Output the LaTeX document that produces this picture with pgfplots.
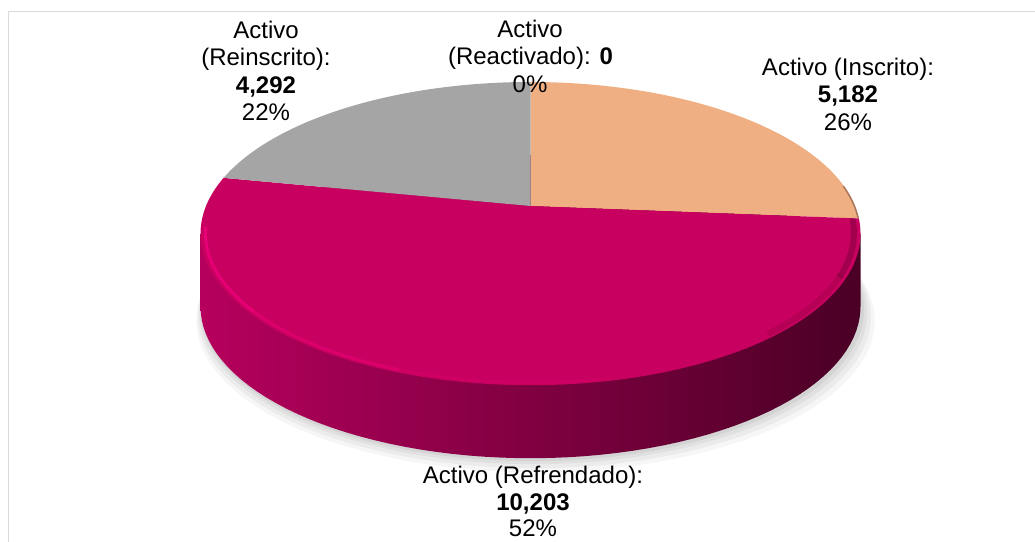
\documentclass[border=0pt]{standalone}
\usepackage{pgfplots}
\pgfplotsset{compat=1.18}
\usepackage{fontspec}
\setmainfont{Liberation Sans}
\definecolor{peach}{HTML}{F0AF82}
\definecolor{peachedge}{HTML}{A8765A}
\definecolor{mag}{HTML}{C8005F}
\definecolor{grey}{HTML}{A5A5A5}
\definecolor{sideL}{HTML}{B6005D}
\definecolor{sideM}{HTML}{800041}
\definecolor{sideR}{HTML}{4A0025}
\definecolor{frame}{HTML}{D9D9D9}
\definecolor{hiA}{HTML}{F5007F}
\definecolor{hiB}{HTML}{EE007A}
\definecolor{hiC}{HTML}{E0006F}
\definecolor{shD}{HTML}{6A0035}
% perspective projection of the pie's rim (centre 530.5,206 in pixel units)
\newcommand\PX[2]{530.5+#2*324.5*cos(#1)/(1+0.182*sin(#1))}
\newcommand\PY[2]{206-#2*146.6*sin(#1)/(1+0.182*sin(#1))}
% data
\def\vIns{5182}
\def\vRef{10203}
\def\vRei{4292}
\def\vRea{0}
\begin{document}%
\begin{tikzpicture}
\pgfmathsetmacro\tot{\vIns/1000+\vRef/1000+\vRei/1000+\vRea/1000}
\pgfmathsetmacro\aA{90}
\pgfmathsetmacro\aB{\aA-0.36*\vIns/\tot}
\pgfmathsetmacro\aC{\aB-0.36*\vRef/\tot}
\pgfmathsetmacro\aD{\aC-0.36*\vRei/\tot}
\begin{axis}[name=pie,width=1035pt,height=541pt,scale only axis,hide axis,
  xmin=0,xmax=1035,ymin=0,ymax=541,y dir=reverse,clip=false]
% frame
\draw[frame,line width=1pt] (axis cs:8.5,545) -- (axis cs:8.5,11) -- (axis cs:1040,11);
% shadow
\addplot[draw=none,fill=black,fill opacity=0.05,domain=0:360,samples=120] ({530.5+1.005*(\PX{x}{1}-530.5)+2},{\PY{x}{1}+73+3}) -- cycle;
\addplot[draw=none,fill=black,fill opacity=0.05,domain=0:360,samples=120] ({530.5+1.012*(\PX{x}{1}-530.5)+3},{\PY{x}{1}+73+6}) -- cycle;
\addplot[draw=none,fill=black,fill opacity=0.045,domain=0:360,samples=120] ({530.5+1.02*(\PX{x}{1}-530.5)+4},{\PY{x}{1}+73+10}) -- cycle;
\addplot[draw=none,fill=black,fill opacity=0.035,domain=0:360,samples=120] ({530.5+1.028*(\PX{x}{1}-530.5)+5},{\PY{x}{1}+73+14}) -- cycle;
% side wall
\addplot[draw=none,left color=sideL,middle color=sideM,right color=sideR,domain=0:360,samples=150]
  ({\PX{x}{1}},{\PY{x}{1}+73}) -- cycle (axis cs:200.5,233.6) rectangle (axis cs:860.5,306.6);
% top faces
\addplot[draw=none,fill=peach,domain=\aB:\aA,samples=60] ({\PX{x}{1}},{\PY{x}{1}}) -- (axis cs:530.5,206) -- cycle;
\addplot[draw=none,fill=mag,domain=\aC:\aB,samples=140] ({\PX{x}{1}},{\PY{x}{1}}) -- (axis cs:530.5,206) -- cycle;
\addplot[draw=none,fill=grey,domain=\aD:\aC,samples=60] ({\PX{x}{1}},{\PY{x}{1}}) -- (axis cs:530.5,206) -- cycle;
% bevel highlights and shadows on the rim
\addplot[no marks,line width=1.5pt,color=peachedge,domain=\aB:8,samples=10] ({\PX{x}{0.998}},{\PY{x}{0.998}});
\addplot[no marks,line width=3pt,color=hiA,opacity=0.7,domain=-172:-140,samples=30] ({\PX{x}{0.985}},{\PY{x}{0.985}});
\addplot[no marks,line width=3pt,color=hiB,opacity=0.5,domain=-141:-110,samples=30] ({\PX{x}{0.985}},{\PY{x}{0.985}});
\addplot[no marks,line width=3pt,color=hiC,opacity=0.3,domain=-111:-80,samples=30] ({\PX{x}{0.985}},{\PY{x}{0.985}});
\addplot[no marks,line width=6pt,color=shD,opacity=0.2,domain=-50:-26,samples=30] ({\PX{x}{0.98}},{\PY{x}{0.98}});
\addplot[no marks,line width=6pt,color=shD,opacity=0.4,domain=-27:\aB,samples=30] ({\PX{x}{0.98}},{\PY{x}{0.98}});
% labels
\tikzset{lbl/.style={anchor=base,inner sep=0pt,font=\fontsize{24}{27.5}\selectfont}}
\node[lbl] at (axis cs:266,38) {Activo};
\node[lbl] at (axis cs:266,65.5) {(Reinscrito):};
\node[lbl] at (axis cs:266,93) {\textbf{4,292}};
\node[lbl] at (axis cs:266,120.5) {22\%};
\node[lbl] at (axis cs:530,37) {Activo};
\node[lbl] at (axis cs:530.5,64.5) {(Reactivado): \textbf{0}};
\node[lbl] at (axis cs:530,92) {0\%};
\node[lbl] at (axis cs:848,75) {Activo (Inscrito):};
\node[lbl] at (axis cs:848,102.5) {\textbf{5,182}};
\node[lbl] at (axis cs:848,130) {26\%};
\node[lbl] at (axis cs:533,483) {Activo (Refrendado):};
\node[lbl] at (axis cs:533,510) {\textbf{10,203}};
\node[lbl] at (axis cs:533,536.5) {52\%};
\end{axis}
\pgfresetboundingbox
\path[use as bounding box] (pie.south west) rectangle (pie.north east);
\end{tikzpicture}%
\end{document}
